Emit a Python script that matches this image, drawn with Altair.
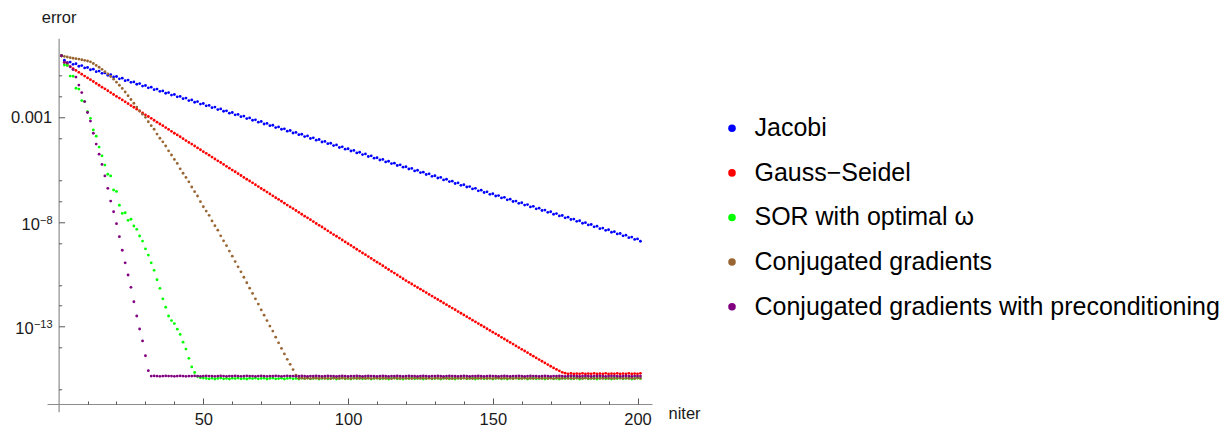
import altair as alt
import pandas as pd

METHODS = ["Jacobi", "Gauss\u2212Seidel", "SOR with optimal \u03c9",
           "Conjugated gradients", "Conjugated gradients with preconditioning"]
COLORS = ["#0000ff", "#ff0000", "#00ff00", "#996633", "#800080"]

# log10(error), one value per iteration (niter = 1, 2, ...)
JACOBI_LOG = [
    -0.06, -0.27, -0.39, -0.36, -0.47, -0.44, -0.56, -0.53, -0.64, -0.62,
    -0.73, -0.70, -0.82, -0.79, -0.90, -0.88, -0.99, -0.96, -1.07, -1.05,
    -1.16, -1.13, -1.25, -1.22, -1.33, -1.31, -1.42, -1.39, -1.51, -1.48,
    -1.59, -1.56, -1.68, -1.65, -1.76, -1.74, -1.85, -1.82, -1.94, -1.91,
    -2.02, -2.00, -2.11, -2.08, -2.20, -2.17, -2.28, -2.25, -2.37, -2.34,
    -2.45, -2.43, -2.54, -2.51, -2.63, -2.60, -2.71, -2.69, -2.80, -2.77,
    -2.88, -2.86, -2.97, -2.94, -3.06, -3.03, -3.14, -3.12, -3.23, -3.20,
    -3.32, -3.29, -3.40, -3.38, -3.49, -3.46, -3.57, -3.55, -3.66, -3.63,
    -3.75, -3.72, -3.83, -3.81, -3.92, -3.89, -4.01, -3.98, -4.09, -4.06,
    -4.18, -4.15, -4.26, -4.24, -4.35, -4.32, -4.44, -4.41, -4.52, -4.50,
    -4.61, -4.58, -4.70, -4.67, -4.78, -4.75, -4.87, -4.84, -4.95, -4.93,
    -5.04, -5.01, -5.13, -5.10, -5.21, -5.19, -5.30, -5.27, -5.38, -5.36,
    -5.47, -5.44, -5.56, -5.53, -5.64, -5.62, -5.73, -5.70, -5.82, -5.79,
    -5.90, -5.87, -5.99, -5.96, -6.07, -6.05, -6.16, -6.13, -6.25, -6.22,
    -6.33, -6.31, -6.42, -6.39, -6.51, -6.48, -6.59, -6.56, -6.68, -6.65,
    -6.76, -6.74, -6.85, -6.82, -6.94, -6.91, -7.02, -7.00, -7.11, -7.08,
    -7.19, -7.17, -7.28, -7.25, -7.37, -7.34, -7.45, -7.43, -7.54, -7.51,
    -7.63, -7.60, -7.71, -7.69, -7.80, -7.77, -7.88, -7.86, -7.97, -7.94,
    -8.06, -8.03, -8.14, -8.12, -8.23, -8.20, -8.32, -8.29, -8.40, -8.37,
    -8.49, -8.46, -8.57, -8.55, -8.66, -8.63, -8.75, -8.72, -8.83, -8.81,
    -8.92,
]

GS_LOG = [
    -0.06, -0.38, -0.50, -0.59, -0.68, -0.76, -0.85, -0.94, -1.03, -1.12,
    -1.20, -1.29, -1.38, -1.47, -1.56, -1.64, -1.73, -1.82, -1.91, -2.00,
    -2.08, -2.17, -2.26, -2.35, -2.44, -2.52, -2.61, -2.70, -2.79, -2.88,
    -2.96, -3.05, -3.14, -3.23, -3.32, -3.40, -3.49, -3.58, -3.67, -3.76,
    -3.84, -3.93, -4.02, -4.11, -4.20, -4.28, -4.37, -4.46, -4.55, -4.64,
    -4.72, -4.81, -4.90, -4.99, -5.08, -5.16, -5.25, -5.34, -5.43, -5.52,
    -5.60, -5.69, -5.78, -5.87, -5.96, -6.04, -6.13, -6.22, -6.31, -6.40,
    -6.48, -6.57, -6.66, -6.75, -6.84, -6.92, -7.01, -7.10, -7.19, -7.28,
    -7.36, -7.45, -7.54, -7.63, -7.72, -7.80, -7.89, -7.98, -8.07, -8.16,
    -8.24, -8.33, -8.42, -8.51, -8.60, -8.68, -8.77, -8.86, -8.95, -9.04,
    -9.12, -9.21, -9.30, -9.39, -9.48, -9.56, -9.65, -9.74, -9.83, -9.92,
    -10.00, -10.09, -10.18, -10.27, -10.36, -10.44, -10.53, -10.62, -10.71, -10.80,
    -10.88, -10.96, -11.05, -11.13, -11.21, -11.29, -11.37, -11.46, -11.54, -11.62,
    -11.70, -11.78, -11.87, -11.95, -12.03, -12.11, -12.19, -12.28, -12.36, -12.44,
    -12.52, -12.60, -12.69, -12.77, -12.85, -12.93, -13.01, -13.10, -13.18, -13.26,
    -13.34, -13.42, -13.51, -13.59, -13.67, -13.75, -13.83, -13.92, -14.00, -14.08,
    -14.16, -14.24, -14.33, -14.41, -14.49, -14.57, -14.65, -14.73, -14.81, -14.89,
    -14.97, -15.04, -15.11, -15.18, -15.22, -15.25, -15.23, -15.26, -15.24, -15.25,
    -15.23, -15.26, -15.24, -15.25, -15.23, -15.26, -15.24, -15.25, -15.23, -15.26,
    -15.24, -15.25, -15.23, -15.26, -15.24, -15.25, -15.23, -15.26, -15.24, -15.25,
    -15.23,
]

SOR_LOG = [
    -0.06, -0.50, -0.52, -1.03, -1.04, -1.61, -1.65, -2.20, -2.25, -2.73,
    -3.05, -3.60, -3.90, -4.42, -4.84, -5.28, -5.72, -5.80, -6.47, -6.54,
    -7.20, -7.59, -7.56, -7.92, -7.87, -8.19, -8.35, -8.67, -8.91, -9.28,
    -9.58, -9.95, -10.31, -10.76, -11.17, -11.67, -12.07, -12.49, -12.71, -12.85,
    -13.12, -13.37, -13.74, -14.07, -14.51, -14.92, -15.19, -15.38, -15.44, -15.45,
    -15.47, -15.49, -15.46, -15.50, -15.47, -15.45, -15.49, -15.47, -15.50, -15.46,
    -15.48, -15.45, -15.49, -15.47, -15.50, -15.46, -15.48, -15.45, -15.49, -15.47,
    -15.46, -15.50, -15.47, -15.45, -15.49, -15.48, -15.46, -15.50, -15.47, -15.45,
    -15.49, -15.47, -15.50, -15.46, -15.48, -15.45, -15.49, -15.47, -15.46, -15.50,
    -15.47, -15.45, -15.49, -15.48, -15.46, -15.50, -15.47, -15.45, -15.49, -15.47,
    -15.50, -15.46, -15.48, -15.45, -15.49, -15.47, -15.46, -15.50, -15.47, -15.45,
    -15.49, -15.48, -15.46, -15.50, -15.47, -15.45, -15.49, -15.47, -15.50, -15.46,
    -15.48, -15.45, -15.49, -15.47, -15.46, -15.50, -15.47, -15.45, -15.49, -15.48,
    -15.46, -15.50, -15.47, -15.45, -15.49, -15.47, -15.50, -15.46, -15.48, -15.45,
    -15.49, -15.47, -15.46, -15.50, -15.47, -15.45, -15.49, -15.48, -15.46, -15.50,
    -15.47, -15.45, -15.49, -15.47, -15.50, -15.46, -15.48, -15.45, -15.49, -15.47,
    -15.46, -15.50, -15.47, -15.45, -15.49, -15.48, -15.46, -15.50, -15.47, -15.45,
    -15.49, -15.47, -15.50, -15.46, -15.48, -15.45, -15.49, -15.47, -15.46, -15.50,
    -15.47, -15.45, -15.49, -15.48, -15.46, -15.50, -15.47, -15.45, -15.49, -15.47,
    -15.50, -15.46, -15.48, -15.45, -15.49, -15.47, -15.46, -15.50, -15.47, -15.45,
    -15.48,
]

CG_LOG = [
    -0.06, -0.09, -0.12, -0.15, -0.18, -0.20, -0.22, -0.25, -0.28, -0.31,
    -0.35, -0.43, -0.52, -0.61, -0.71, -0.82, -0.93, -1.05, -1.18, -1.32,
    -1.47, -1.62, -1.79, -1.97, -2.15, -2.33, -2.51, -2.70, -2.85, -3.00,
    -3.21, -3.40, -3.57, -3.80, -4.00, -4.17, -4.37, -4.60, -4.80, -5.01,
    -5.20, -5.46, -5.67, -5.87, -6.08, -6.33, -6.55, -6.76, -7.03, -7.27,
    -7.48, -7.68, -7.95, -8.18, -8.39, -8.66, -8.90, -9.13, -9.39, -9.63,
    -9.89, -10.14, -10.38, -10.64, -10.90, -11.16, -11.41, -11.67, -11.92, -12.20,
    -12.45, -12.71, -12.97, -13.21, -13.50, -13.77, -14.04, -14.30, -14.56, -14.80,
    -15.05, -15.31, -15.46, -15.45, -15.47, -15.46, -15.48, -15.45, -15.46, -15.47,
    -15.45, -15.47, -15.46, -15.48, -15.45, -15.46, -15.47, -15.45, -15.47, -15.46,
    -15.48, -15.45, -15.46, -15.47, -15.45, -15.47, -15.46, -15.48, -15.45, -15.46,
    -15.47, -15.45, -15.47, -15.46, -15.48, -15.45, -15.46, -15.47, -15.45, -15.47,
    -15.46, -15.48, -15.45, -15.46, -15.47, -15.45, -15.47, -15.46, -15.48, -15.45,
    -15.46, -15.47, -15.45, -15.47, -15.46, -15.48, -15.45, -15.46, -15.47, -15.45,
    -15.47, -15.46, -15.48, -15.45, -15.46, -15.47, -15.45, -15.47, -15.46, -15.48,
    -15.45, -15.46, -15.47, -15.45, -15.47, -15.46, -15.48, -15.45, -15.46, -15.47,
    -15.45, -15.47, -15.46, -15.48, -15.45, -15.46, -15.47, -15.45, -15.47, -15.46,
    -15.48, -15.45, -15.46, -15.47, -15.45, -15.47, -15.46, -15.48, -15.45, -15.46,
    -15.47, -15.45, -15.47, -15.46, -15.48, -15.45, -15.46, -15.47, -15.45, -15.47,
    -15.46, -15.48, -15.45, -15.46, -15.47, -15.45, -15.47, -15.46, -15.48, -15.45,
    -15.46,
]

PCG_LOG = [
    -0.06, -0.37, -0.40, -0.58, -0.72, -1.08, -1.46, -1.82, -2.25, -2.77,
    -3.18, -3.76, -4.28, -4.76, -5.25, -5.80, -6.39, -7.00, -7.51, -8.08,
    -8.70, -9.35, -9.95, -10.53, -11.12, -11.81, -12.49, -13.11, -13.68, -14.39,
    -15.10, -15.36, -15.35, -15.36, -15.37, -15.36, -15.35, -15.36, -15.36, -15.37,
    -15.36, -15.35, -15.36, -15.37, -15.36, -15.36, -15.35, -15.36, -15.37, -15.36,
    -15.35, -15.36, -15.36, -15.37, -15.36, -15.35, -15.36, -15.37, -15.36, -15.36,
    -15.35, -15.36, -15.37, -15.36, -15.35, -15.36, -15.36, -15.37, -15.36, -15.35,
    -15.36, -15.37, -15.36, -15.36, -15.35, -15.36, -15.37, -15.36, -15.35, -15.36,
    -15.36, -15.37, -15.36, -15.35, -15.36, -15.37, -15.36, -15.36, -15.35, -15.36,
    -15.37, -15.36, -15.35, -15.36, -15.36, -15.37, -15.36, -15.35, -15.36, -15.37,
    -15.36, -15.36, -15.35, -15.36, -15.37, -15.36, -15.35, -15.36, -15.36, -15.37,
    -15.36, -15.35, -15.36, -15.37, -15.36, -15.36, -15.35, -15.36, -15.37, -15.36,
    -15.35, -15.36, -15.36, -15.37, -15.36, -15.35, -15.36, -15.37, -15.36, -15.36,
    -15.35, -15.36, -15.37, -15.36, -15.35, -15.36, -15.36, -15.37, -15.36, -15.35,
    -15.36, -15.37, -15.36, -15.36, -15.35, -15.36, -15.37, -15.36, -15.35, -15.36,
    -15.36, -15.37, -15.36, -15.35, -15.36, -15.37, -15.36, -15.36, -15.35, -15.36,
    -15.37, -15.36, -15.35, -15.36, -15.36, -15.37, -15.36, -15.35, -15.36, -15.37,
    -15.36, -15.36, -15.35, -15.36, -15.37, -15.36, -15.35, -15.36, -15.36, -15.37,
    -15.36, -15.35, -15.36, -15.37, -15.36, -15.36, -15.35, -15.36, -15.37, -15.36,
    -15.35, -15.36, -15.36, -15.37, -15.36, -15.35, -15.36, -15.37, -15.36, -15.36,
    -15.36,
]

X_MAJOR = [50, 100, 150, 200]
X_MINOR = [10, 20, 30, 40, 60, 70, 80, 90, 110, 120, 130, 140, 160, 170, 180, 190]
Y_MAJOR = [1e-3, 1e-8, 1e-13]
Y_MINOR = [1e-1, 1e-2, 1e-4, 1e-6, 1e-7, 1e-9, 1e-11, 1e-12, 1e-14, 1e-16]
X_DOMAIN = [-4.0, 205.0]
Y_DOMAIN = [10 ** -17.06, 10 ** 0.774]

FONT = "Liberation Sans"
AXIS_GRAY = "#8c8c8c"
TICK_GRAY = "#555555"
TEXT = "#1a1a1a"
LABEL_SIZE = 16.5
EXP_SIZE = 11

rows = []
for method, logs in zip(METHODS, [JACOBI_LOG, GS_LOG, SOR_LOG, CG_LOG, PCG_LOG]):
    for i, v in enumerate(logs):
        rows.append({"niter": i + 1, "error": 10 ** v, "method": method})
df = pd.DataFrame(rows)
tick_df = pd.DataFrame({"niter": [100], "error": [1e-8]})

xs = alt.Scale(domain=X_DOMAIN, nice=False, zero=False)
ys = alt.Scale(type="log", domain=Y_DOMAIN, nice=False)

X_OFF = -7.7    # x axis sits at this offset from the bottom edge
Y_OFF = -11.6   # y axis sits at niter = 0

points = alt.Chart(df).mark_circle(size=8, opacity=1).encode(
    x=alt.X("niter:Q", scale=xs, axis=alt.Axis(
        orient="bottom", offset=X_OFF, values=X_MAJOR, ticks=False, tickSize=0,
        domain=True, domainColor=AXIS_GRAY, domainWidth=1.2, grid=False,
        labelPadding=7.5, labelFontSize=LABEL_SIZE, labelColor=TEXT, labelFlush=False,
        title="niter", titleX=621, titleY=15, titleAlign="left", titleAnchor="start",
        titleBaseline="alphabetic", titleFontSize=LABEL_SIZE, titleFontWeight="normal",
        titleColor=TEXT)),
    y=alt.Y("error:Q", scale=ys, axis=alt.Axis(
        orient="left", offset=Y_OFF, values=[1e-3], ticks=False, tickSize=0,
        labelExpr="'0.001'",
        domain=True, domainColor=AXIS_GRAY, domainWidth=1.2, grid=False,
        labelPadding=6.9, labelFontSize=LABEL_SIZE, labelColor=TEXT, labelFlush=False,
        labelOverlap=False,
        title="error", titleX=0, titleY=-15.6, titleAngle=0, titleAlign="center",
        titleBaseline="alphabetic", titleFontSize=LABEL_SIZE, titleFontWeight="normal",
        titleColor=TEXT)),
    color=alt.Color("method:N", sort=METHODS,
                    scale=alt.Scale(domain=METHODS, range=COLORS),
                    legend=alt.Legend(
                        orient="none", legendX=672.5, legendY=77.5, title=None,
                        labelFontSize=25, labelColor="#000000", labelFont=FONT,
                        labelOffset=10, labelLimit=700, rowPadding=18.6, padding=0,
                        symbolType="circle", symbolSize=57, symbolStrokeWidth=0,
                        symbolOpacity=1)),
)


def tick_layer(x_values, y_values, size):
    return alt.Chart(tick_df).mark_point(opacity=0).encode(
        x=alt.X("niter:Q", scale=xs, axis=alt.Axis(
            orient="bottom", offset=X_OFF - size, values=x_values, ticks=True,
            tickSize=size, tickColor=TICK_GRAY, tickWidth=1, labels=False,
            domain=False, grid=False, title=None)),
        y=alt.Y("error:Q", scale=ys, axis=alt.Axis(
            orient="left", offset=Y_OFF - size, values=y_values, ticks=True,
            tickSize=size, tickColor=TICK_GRAY, tickWidth=1, labels=False,
            domain=False, grid=False, title=None)),
    )


def label_layer(values, expr, pad, size, shift):
    return alt.Chart(tick_df).mark_point(opacity=0).encode(
        x=alt.X("niter:Q", scale=xs, axis=None),
        y=alt.Y("error:Q", scale=ys, axis=alt.Axis(
            orient="left", offset=Y_OFF, values=values, ticks=False, tickSize=0,
            domain=False, grid=False, labelExpr=expr, labelPadding=pad,
            labelAlign="right", labelBaseline="middle", labelFontSize=size,
            labelOffset=shift, labelColor=TEXT, labelOverlap=False,
            labelFlush=False, title=None)),
    )


major = tick_layer(X_MAJOR, Y_MAJOR, 6)
minor = tick_layer(X_MINOR, Y_MINOR, 3)
ten_8 = label_layer([1e-8], "'10'", 19.3, LABEL_SIZE, 2.6)
ten_13 = label_layer([1e-13], "'10'", 25.4, LABEL_SIZE, 1.8)
exps = label_layer([1e-8, 1e-13],
                   "datum.value > 1e-10 ? '\u22128' : '\u221213'",
                   6.6, EXP_SIZE, -1.8)

chart = (
    alt.layer(points, major, minor, ten_8, ten_13, exps)
    .resolve_axis(x="independent", y="independent")
    .properties(
        width=605, height=373.4,
        padding={"left": 39, "top": 30.3, "right": 570, "bottom": 20},
        autosize=alt.AutoSizeParams(type="none"),
    )
    .configure(font=FONT)
    .configure_view(stroke="transparent")
)

chart.save("out.html", embed_options={"renderer": "svg", "actions": False})
